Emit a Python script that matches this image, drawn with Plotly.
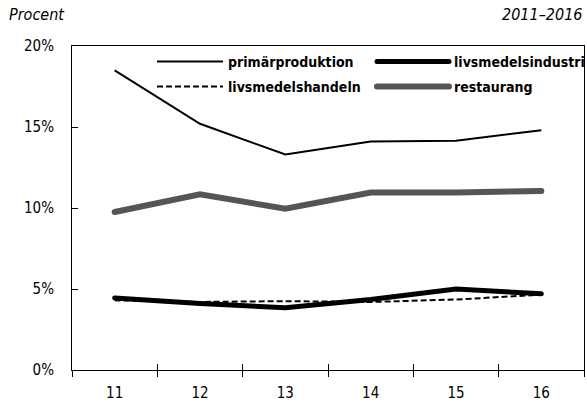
import plotly.graph_objects as go

years = ["11", "12", "13", "14", "15", "16"]
primarproduktion = [18.5, 15.2, 13.3, 14.1, 14.15, 14.8]
livsmedelsindustri = [4.45, 4.1, 3.85, 4.35, 5.0, 4.7]
livsmedelshandeln = [4.3, 4.2, 4.25, 4.2, 4.35, 4.65]
restaurang = [9.75, 10.85, 9.95, 10.95, 10.95, 11.05]

W, H = 587, 405
L, R, T, B = 72, 3, 46, 35
PW = W - L - R
PH = H - T - B

FONT = "Liberation Sans Narrow, DejaVu Sans Condensed, Arial Narrow, sans-serif"

fig = go.Figure()

def px2x(p):
    return (p - L) / PW

def py2y(p):
    return 1 - (p - T) / PH

fig.add_trace(go.Scatter(x=years, y=restaurang, mode="lines", name="restaurang",
                         line=dict(color="#555555", width=6), legend="legend4"))
fig.add_trace(go.Scatter(x=years, y=primarproduktion, mode="lines", name="primärproduktion",
                         line=dict(color="black", width=2), legend="legend"))
fig.add_trace(go.Scatter(x=years, y=livsmedelsindustri, mode="lines", name="livsmedelsindustri",
                         line=dict(color="black", width=5), legend="legend3"))
fig.add_trace(go.Scatter(x=years, y=livsmedelshandeln, mode="lines", name="livsmedelshandeln",
                         line=dict(color="black", width=2, dash="6px,3px"), legend="legend2"))
# invisible trace for the inner tick axis
fig.add_trace(go.Scatter(x=years, y=restaurang, xaxis="x2", mode="lines", showlegend=False,
                         hoverinfo="skip", line=dict(color="rgba(0,0,0,0)", width=0)))

legfont = dict(family=FONT, size=14, color="black", weight="bold")
def leg(xp, yp, iw):
    return dict(x=px2x(xp), y=py2y(yp), xanchor="left", yanchor="middle",
                bgcolor="rgba(0,0,0,0)", font=legfont, itemwidth=iw,
                borderwidth=0, tracegroupgap=0)

xr = [-0.5, 5.5]
fig.update_layout(
    width=W, height=H,
    margin=dict(l=L, r=R, t=T, b=B, autoexpand=False),
    plot_bgcolor="white", paper_bgcolor="white",
    font=dict(family=FONT, size=15, color="black"),
    legend=leg(152, 62, 66),
    legend2=leg(152, 87, 66),
    legend3=leg(372, 62, 72),
    legend4=leg(372, 87, 72),
    xaxis=dict(type="category", range=xr, tickson="boundaries", ticks="outside", ticklen=6,
               tickcolor="black", tickwidth=1, showline=True, linecolor="black",
               linewidth=1, mirror=True, showgrid=False, zeroline=False, automargin=False,
               ticklabelstandoff=9, tickfont=dict(family=FONT, size=15)),
    xaxis2=dict(type="category", range=xr, overlaying="x", tickson="boundaries",
                ticks="inside", ticklen=6, tickcolor="black", tickwidth=1, automargin=False,
                showticklabels=False, showline=False, showgrid=False, side="bottom"),
    yaxis=dict(range=[0, 20], tickvals=[0, 5, 10, 15, 20],
               ticktext=["0%", "5%", "10%", "15%", "20%"],
               ticks="inside", ticklen=6, tickcolor="black", showline=True,
               linecolor="black", linewidth=1, mirror=True, showgrid=False,
               zeroline=False, ticklabelstandoff=14, automargin=False,
               tickfont=dict(family=FONT, size=15)),
    showlegend=True,
)

fig.add_annotation(text="<i>Procent</i>", xref="paper", yref="paper",
                   x=px2x(7), y=py2y(14), xanchor="left", yanchor="middle",
                   showarrow=False, font=dict(family=FONT, size=16))
fig.add_annotation(text="<i>2011–2016</i>", xref="paper", yref="paper",
                   x=px2x(584), y=py2y(14), xanchor="right", yanchor="middle",
                   showarrow=False, font=dict(family=FONT, size=16))

post = (
    "document.body.style.margin='0';document.body.style.padding='0';"
    "document.querySelectorAll('path.js-line').forEach(function(p){"
    "var w=parseFloat(p.style.strokeWidth||'0');"
    "if(w>=4){p.style.strokeLinecap='round';}});"
)
fig.write_html("out.html", config={"displayModeBar": False}, post_script=post)
